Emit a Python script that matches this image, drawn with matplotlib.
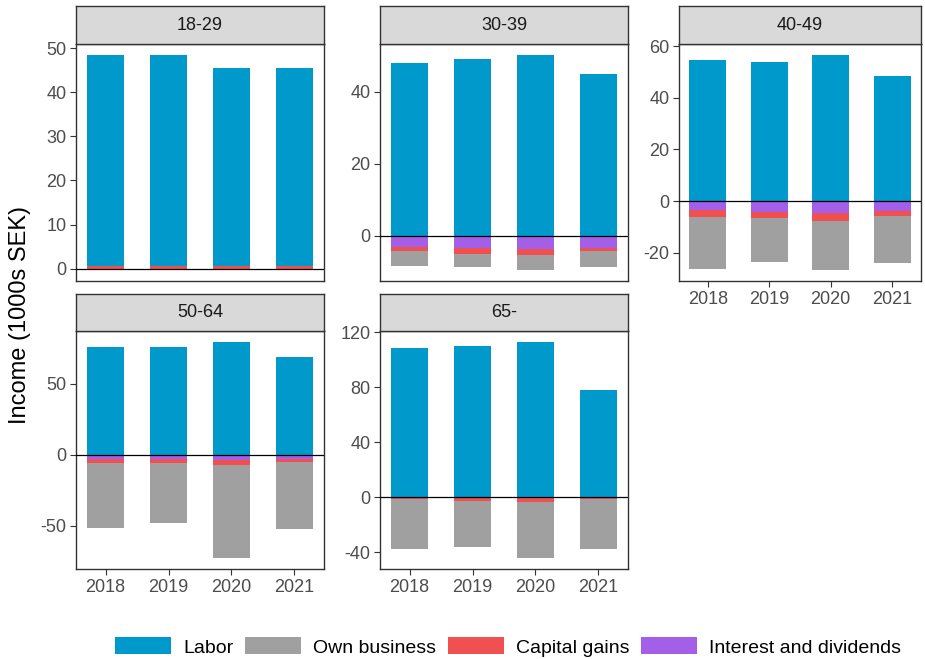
import matplotlib
matplotlib.use("Agg")
import matplotlib.pyplot as plt
from matplotlib.patches import Patch
import numpy as np

plt.rcParams['font.family'] = ['Liberation Sans', 'DejaVu Sans']

years = ["2018", "2019", "2020", "2021"]
groups = ["18-29", "30-39", "40-49", "50-64", "65-"]
series = ["Labor", "Own business", "Capital gains", "Interest and dividends"]
colors = {"Labor": "#0099CC", "Own business": "#A0A0A0",
          "Capital gains": "#F05050", "Interest and dividends": "#A35FE8"}

labor = {
    "18-29": [48.0, 48.0, 45.0, 45.0],
    "30-39": [48.0, 49.0, 50.2, 45.0],
    "40-49": [54.6, 53.9, 56.7, 48.5],
    "50-64": [75.8, 76.0, 79.6, 69.0],
    "65-":   [108.6, 110.4, 113.2, 78.0],
}
own_business = {
    "18-29": [-0.05, -0.05, -0.05, -0.05],
    "30-39": [-3.9, -3.7, -4.1, -4.2],
    "40-49": [-20.0, -17.1, -19.0, -18.2],
    "50-64": [-45.8, -42.0, -65.5, -47.7],
    "65-":   [-36.3, -33.8, -41.3, -36.0],
}
capital_gains = {
    "18-29": [0.5, 0.5, 0.5, 0.5],
    "30-39": [-1.2, -1.7, -1.7, -1.0],
    "40-49": [-2.75, -2.4, -3.3, -2.0],
    "50-64": [-2.6, -3.05, -3.75, -1.9],
    "65-":   [-1.2, -2.2, -2.4, -1.4],
}
interest = {
    "18-29": [-0.3, -0.3, -0.3, -0.2],
    "30-39": [-3.1, -3.3, -3.7, -3.3],
    "40-49": [-3.55, -4.3, -4.5, -3.9],
    "50-64": [-3.05, -3.05, -3.75, -3.05],
    "65-":   [-0.3, -0.3, -0.8, -0.3],
}
yticks = {
    "18-29": [0, 10, 20, 30, 40, 50],
    "30-39": [0, 20, 40],
    "40-49": [-20, 0, 20, 40, 60],
    "50-64": [-50, 0, 50],
    "65-":   [-40, 0, 40, 80, 120],
}

W, H = 925, 659
fig = plt.figure(figsize=(W / 100, H / 100), dpi=100)

# panel boxes in pixels: (left, right, strip_top, panel_top, panel_bottom)
cols = [(76, 324), (380, 628), (679, 921)]
rows = [(6, 44, 281), (294, 331, 569)]
layout = {"18-29": (0, 0), "30-39": (1, 0), "40-49": (2, 0),
          "50-64": (0, 1), "65-": (1, 1)}
show_x = {"18-29": False, "30-39": False, "40-49": True, "50-64": True, "65-": True}

tick_color = "#4D4D4D"
border_color = "#333333"

for g in groups:
    ci, ri = layout[g]
    l, r = cols[ci]
    st, pt, pb = rows[ri]
    ax = fig.add_axes([l / W, 1 - pb / H, (r - l) / W, (pb - pt) / H])
    x = np.arange(1, 5)
    stack_order = [("Interest and dividends", interest[g]),
                   ("Capital gains", capital_gains[g]),
                   ("Own business", own_business[g]),
                   ("Labor", labor[g])]
    pos = np.zeros(4)
    neg = np.zeros(4)
    for name, vals in stack_order:
        vals = np.array(vals, dtype=float)
        bottoms = np.where(vals >= 0, pos, neg)
        ax.bar(x, vals, width=0.6, bottom=bottoms, color=colors[name],
               edgecolor="none", zorder=2)
        pos = pos + np.where(vals >= 0, vals, 0)
        neg = neg + np.where(vals < 0, vals, 0)
    lo, hi = min(neg.min(), 0), max(pos.max(), 0)
    rng = hi - lo
    ax.set_ylim(lo - 0.05 * rng, hi + 0.05 * rng)
    ax.set_xlim(1 - 0.47, 4 + 0.47)
    ax.axhline(0, color="black", lw=0.9, zorder=3)
    ax.set_yticks(yticks[g])
    ax.set_yticklabels([str(t) for t in yticks[g]])
    ax.set_xticks(x)
    if show_x[g]:
        ax.set_xticklabels(years)
        ax.tick_params(axis="x", length=4, width=0.8, color=border_color,
                       labelsize=13, labelcolor=tick_color, pad=3)
    else:
        ax.set_xticklabels([])
        ax.tick_params(axis="x", length=0)
    ax.tick_params(axis="y", length=4, width=0.8, color=border_color,
                   labelsize=13, labelcolor=tick_color, pad=3)
    for s in ax.spines.values():
        s.set_color(border_color)
        s.set_linewidth(1.0)
    # strip
    sax = fig.add_axes([l / W, 1 - pt / H, (r - l) / W, (pt - st) / H])
    sax.set_facecolor("#D9D9D9")
    sax.set_xticks([])
    sax.set_yticks([])
    for s in sax.spines.values():
        s.set_color(border_color)
        s.set_linewidth(1.0)
    sax.text(0.5, 0.5, g, transform=sax.transAxes, ha="center", va="center",
             fontsize=13, color="#1A1A1A")

fig.text(20 / W, 1 - 315 / H, "Income (1000s SEK)", rotation=90,
         ha="center", va="center", fontsize=17, color="black")

handles = [Patch(facecolor=colors[s], edgecolor="none", label=s) for s in series]
fig.legend(handles=handles, loc="center", bbox_to_anchor=(508 / W, 1 - 647 / H),
           ncol=4, frameon=False, fontsize=14, handlelength=2.9,
           handleheight=0.95, handletextpad=0.6, columnspacing=0.6)

fig.savefig("out.png", dpi=100)
